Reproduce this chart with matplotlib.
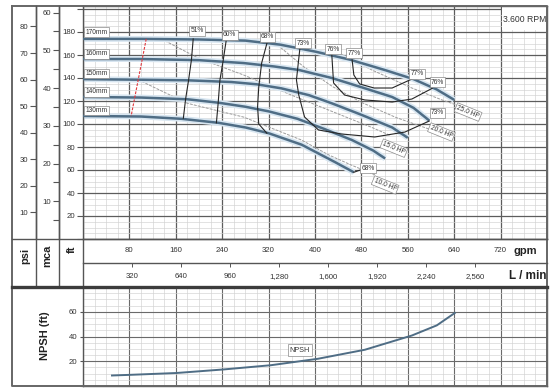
import numpy as np
import matplotlib
matplotlib.use("Agg")
import matplotlib.pyplot as plt
from matplotlib.patches import Rectangle

plt.rcParams['font.family'] = ['Liberation Sans', 'DejaVu Sans']

# ---------------- data ----------------
impellers = ['170mm', '160mm', '150mm', '140mm', '130mm']
q170 = [0, 100, 200, 280, 340, 400, 460, 520, 570, 610, 640]
h170 = [174, 174, 173.5, 172.5, 169, 163, 156, 147, 139, 130, 121]
q160 = [0, 100, 200, 277, 330, 372, 429, 480, 533, 570, 597]
h160 = [156.5, 156.5, 155.5, 153, 150, 147, 140, 132, 123.5, 114, 103]
q150 = [0, 100, 180, 256, 300, 342, 390, 429, 480, 533, 560]
h150 = [139, 138.5, 138, 136.5, 134.5, 131, 125, 118, 108, 97, 88]
q140 = [0, 100, 180, 234, 280, 320, 370, 417, 464, 500, 521]
h140 = [123.5, 123, 121.5, 118.5, 115, 111, 104.5, 95.5, 86, 77, 70]
q130 = [0, 100, 170, 234, 280, 320, 377, 434, 467]
h130 = [107, 106.5, 104.5, 101, 97, 92, 82, 67, 58]
imp_q = [q170, q160, q150, q140, q130]
imp_h = [h170, h160, h150, h140, h130]
imp_label_h = [180, 161, 144, 128, 112]

# efficiency iso-lines
eff_names = ['51%', '60%', '68%', '73%', '76%', '77%']
e51_q = [190, 187, 182, 177, 173]
e51_h = [174, 156, 138, 122, 105]
e60_q = [247, 241, 236, 233, 230]
e60_h = [173, 153, 138, 118, 101]
e68_q = [317, 308, 303, 301, 303, 317]
e68_h = [170, 153, 132, 115, 100, 92]
e68r_q = [467, 486]
e68r_h = [58, 61.5]
e73_q = [374, 368, 372, 382, 406, 446, 503, 555, 597]
e73_h = [166, 138.3, 125.2, 106.1, 94.8, 91.3, 88.7, 93, 102.6]
e76_q = [429, 432, 451, 486, 533, 567, 602]
e76_h = [160, 135.7, 125.2, 120.9, 119.1, 121.7, 131]
e77_q = [464, 467, 477, 502, 533, 567]
e77_h = [155.7, 142.6, 134.8, 131.3, 131.3, 139.1]
eff_q = [e51_q, e60_q, e68_q, e68r_q, e73_q, e76_q, e77_q]
eff_h = [e51_h, e60_h, e68_h, e68r_h, e73_h, e76_h, e77_h]
eff_lab = ['51%', '60%', '68%', '73%', '76%', '77%', '77%', '76%', '73%', '68%']
eff_lab_q = [197, 253, 318, 379, 431, 467, 576, 611, 611, 491]
eff_lab_h = [181, 177.4, 175.7, 170.4, 165.2, 161.7, 143.5, 136.5, 109.6, 61.7]

# power lines
hp_lab = ['25.0 HP', '20.0 HP', '15.0 HP', '10.0 HP']
hp25_q = [438, 498, 567, 619, 654]
hp25_h = [162.6, 147, 131.3, 120.9, 114.8]
hp20_q = [330, 380, 430, 480, 540, 600, 622]
hp20_h = [171, 150, 132.6, 118.8, 105.6, 95, 91.5]
hp15_q = [135, 200, 277, 360, 429, 498, 530]
hp15_h = [174, 157, 142.6, 125, 111, 97, 90]
hp10_q = [95, 180, 277, 377, 424, 464, 505]
hp10_h = [138.5, 118, 106, 86, 73, 64, 55.5]
hp_q = [hp25_q, hp20_q, hp15_q, hp10_q]
hp_h = [hp25_h, hp20_h, hp15_h, hp10_h]
hp_lab_q = [664, 618, 536, 521]
hp_lab_h = [110.4, 93, 79, 47]

red_q = [109, 83]
red_h = [174, 107]

npsh_q = [50, 80, 161, 243, 324, 405, 486, 567, 610, 641]
npsh_h = [8.5, 9, 10.5, 13.4, 16.8, 22, 29.3, 40.8, 49, 59]

gpm_ticks = [80, 160, 240, 320, 400, 480, 560, 640, 720]
lmin_ticks = [320, 640, 960, 1280, 1600, 1920, 2240, 2560]
lmin_labels = ['320', '640', '960', '1,280', '1,600', '1,920', '2,240', '2,560']
ft_ticks = list(range(0, 201, 20))
mca_ticks = [10, 20, 30, 40, 50, 60]
psi_ticks = [10, 20, 30, 40, 50, 60, 70, 80]
npsh_ticks = [20, 40, 60]

# ---------------- layout ----------------
W, H = 557, 389
fig = plt.figure(figsize=(W / 100, H / 100), dpi=100)


def px_axes(l, t, r, b, **kw):
    return fig.add_axes([l / W, 1 - b / H, (r - l) / W, (b - t) / H], **kw)


L, R, TOP, BOT = 83, 547, 6, 239
FT_TOP = (BOT - TOP) / 1.15
CURVE = '#4f6d85'
HALO = '#d8e6f1'
MAJ = '#5c5c5c'
MIN = '#d2d2d2'
TXT = '#333333'
FS = 5.6

ax = px_axes(L, TOP, R, BOT)
ax.set_xlim(0, 800)
ax.set_ylim(0, FT_TOP)
ax.set_xticks(np.arange(0, 801, 80))
ax.set_xticks(np.arange(0, 801, 20), minor=True)
ax.set_yticks(ft_ticks)
ax.set_yticks(np.arange(0, 201, 5), minor=True)
ax.set_yticklabels(['' if v in (0, 200) else str(v) for v in ft_ticks])
ax.grid(which='major', color=MAJ, lw=0.9)
ax.grid(which='minor', color=MIN, lw=0.45)
ax.set_axisbelow(True)
ax.tick_params(axis='x', which='both', length=0, labelbottom=False)
ax.tick_params(axis='y', which='major', length=4, width=0.8, labelsize=FS,
               pad=1.5, color='#555', labelcolor=TXT)
ax.tick_params(axis='y', which='minor', length=0)
for s in ax.spines.values():
    s.set_color('#555')
    s.set_linewidth(1.0)

ax.add_patch(Rectangle((722, 181.5), 78, FT_TOP - 181.5, fc='white', ec='none', zorder=0.8))
ax.text(761, 191, '3.600 RPM', fontsize=6.2, color=TXT, ha='center', va='center', zorder=5)

box = dict(boxstyle='square,pad=0.18', fc='white', ec='#8a8a8a', lw=0.5)

# power lines
for qs, hs in zip(hp_q, hp_h):
    ax.plot(qs, hs, color='#9c9c9c', lw=0.7, ls=(0, (3, 1.2)), zorder=2)
for t, q, h in zip(hp_lab, hp_lab_q, hp_lab_h):
    ax.text(q, h, t, fontsize=4.8, color=TXT, ha='center', va='center', rotation=-22,
            bbox=box, zorder=6)

# impeller curves
for qs, hs, name, lh in zip(imp_q, imp_h, impellers, imp_label_h):
    ax.plot(qs, hs, color=HALO, lw=4.2, solid_capstyle='butt', zorder=2.5)
    ax.plot(qs, hs, color=CURVE, lw=1.8, solid_capstyle='butt', zorder=3)
    ax.text(4, lh, name, fontsize=4.8, color=TXT, ha='left', va='center', bbox=box, zorder=6)

# efficiency curves
for qs, hs in zip(eff_q, eff_h):
    ax.plot(qs, hs, color='#262626', lw=0.8, zorder=4)
for t, q, h in zip(eff_lab, eff_lab_q, eff_lab_h):
    ax.text(q, h, t, fontsize=4.8, color=TXT, ha='center', va='center', bbox=box, zorder=6)

ax.plot(red_q, red_h, color='#e0393e', lw=0.8, ls=(0, (2.5, 1.2)), zorder=4)

# psi / mca columns
ax_psi = px_axes(36, TOP, 59, BOT)
ax_psi.set_ylim(0, FT_TOP / 2.31)
ax_mca = px_axes(59, TOP, 83, BOT)
ax_mca.set_ylim(0, FT_TOP * 0.3048)
for a, ticks in ((ax_psi, psi_ticks), (ax_mca, mca_ticks)):
    a.patch.set_visible(False)
    for k in ('top', 'right', 'bottom'):
        a.spines[k].set_visible(False)
    a.spines['left'].set_color('#555')
    a.spines['left'].set_linewidth(1.0)
    a.set_xticks([])
    a.set_yticks(ticks)
    a.tick_params(axis='y', length=4, width=0.8, labelsize=FS, pad=1.5,
                  color='#555', labelcolor=TXT)
ax_mca.set_yticks([5, 15, 25, 35, 45, 55], minor=True)
ax_mca.tick_params(axis='y', which='minor', length=4, width=0.8, color='#555')

# gpm row
ax_g = px_axes(L, BOT, R, 263)
ax_g.set_xlim(0, 800)
ax_g.set_ylim(0, 1)
ax_g.axis('off')
for q in gpm_ticks:
    ax_g.text(q, 0.5, str(q), fontsize=FS, color=TXT, ha='center', va='center')
ax_g.text(762, 0.5, 'gpm', fontsize=8, fontweight='bold', color='#222', ha='center', va='center')

# L/min row
ax_l = px_axes(L, 263, R, 287)
ax_l.set_xlim(0, 800 * 3.785411784)
ax_l.set_ylim(0, 1)
for s in ax_l.spines.values():
    s.set_visible(False)
ax_l.patch.set_visible(False)
ax_l.xaxis.tick_top()
ax_l.set_xticks(lmin_ticks)
ax_l.tick_params(axis='x', direction='in', length=3, width=0.7, color='#555', labeltop=False)
ax_l.set_yticks([])
for v, t in zip(lmin_ticks, lmin_labels):
    ax_l.text(v, 0.45, t, fontsize=FS, color=TXT, ha='center', va='center')
ax_l.text(2900, 0.45, 'L / min', fontsize=8.5, fontweight='bold', color='#222', ha='center', va='center')

# NPSH panel
ax_n = px_axes(L, 287, R, 386)
ax_n.set_xlim(0, 800)
ax_n.set_ylim(0, 80)
ax_n.set_xticks(np.arange(0, 801, 80))
ax_n.set_xticks(np.arange(0, 801, 20), minor=True)
ax_n.set_yticks([0, 20, 40, 60, 80])
ax_n.set_yticks(np.arange(0, 81, 5), minor=True)
ax_n.set_yticklabels(['', '20', '40', '60', ''])
ax_n.grid(which='major', color='#6a6a6a', lw=0.8)
ax_n.grid(which='minor', color=MIN, lw=0.45)
ax_n.set_axisbelow(True)
ax_n.tick_params(axis='x', which='both', length=0, labelbottom=False)
ax_n.tick_params(axis='y', which='major', length=2, labelsize=FS, pad=2, color='#555', labelcolor=TXT)
ax_n.tick_params(axis='y', which='minor', length=0)
for s in ax_n.spines.values():
    s.set_color('#555')
    s.set_linewidth(1.0)
ax_n.plot(npsh_q, npsh_h, color=CURVE, lw=1.4, zorder=3)
ax_n.text(374, 29, 'NPSH', fontsize=5.2, color=TXT, ha='center', va='center',
          bbox=dict(boxstyle='square,pad=0.3', fc='white', ec='#8a8a8a', lw=0.5), zorder=5)

# frame overlay
ax_f = fig.add_axes([0, 0, 1, 1], zorder=10)
ax_f.set_xlim(0, W)
ax_f.set_ylim(H, 0)
ax_f.axis('off')
fc = '#555'
ax_f.plot([12, 547, 547, 12, 12], [6, 6, 386, 386, 6], color='#666', lw=1.4)
ax_f.plot([36, 36], [6, 287], color=fc, lw=1.0)
ax_f.plot([59, 59], [6, 287], color=fc, lw=1.0)
ax_f.plot([83, 83], [239, 287], color=fc, lw=1.0)
ax_f.plot([12, 547], [239, 239], color=fc, lw=1.0)
ax_f.plot([83, 547], [263, 263], color=fc, lw=1.0)
ax_f.plot([12, 547], [287, 287], color='#3c3c3c', lw=2.4)
ax_f.text(25, 256, 'psi', fontsize=8, fontweight='bold', color='#222', rotation=90, ha='center', va='center')
ax_f.text(47, 256, 'mca', fontsize=8, fontweight='bold', color='#222', rotation=90, ha='center', va='center')
ax_f.text(72, 249, 'ft', fontsize=8, fontweight='bold', color='#222', rotation=90, ha='center', va='center')
ax_f.text(45, 336, 'NPSH (ft)', fontsize=8, fontweight='bold', color='#222', rotation=90, ha='center', va='center')

fig.savefig('out.png', dpi=100)
